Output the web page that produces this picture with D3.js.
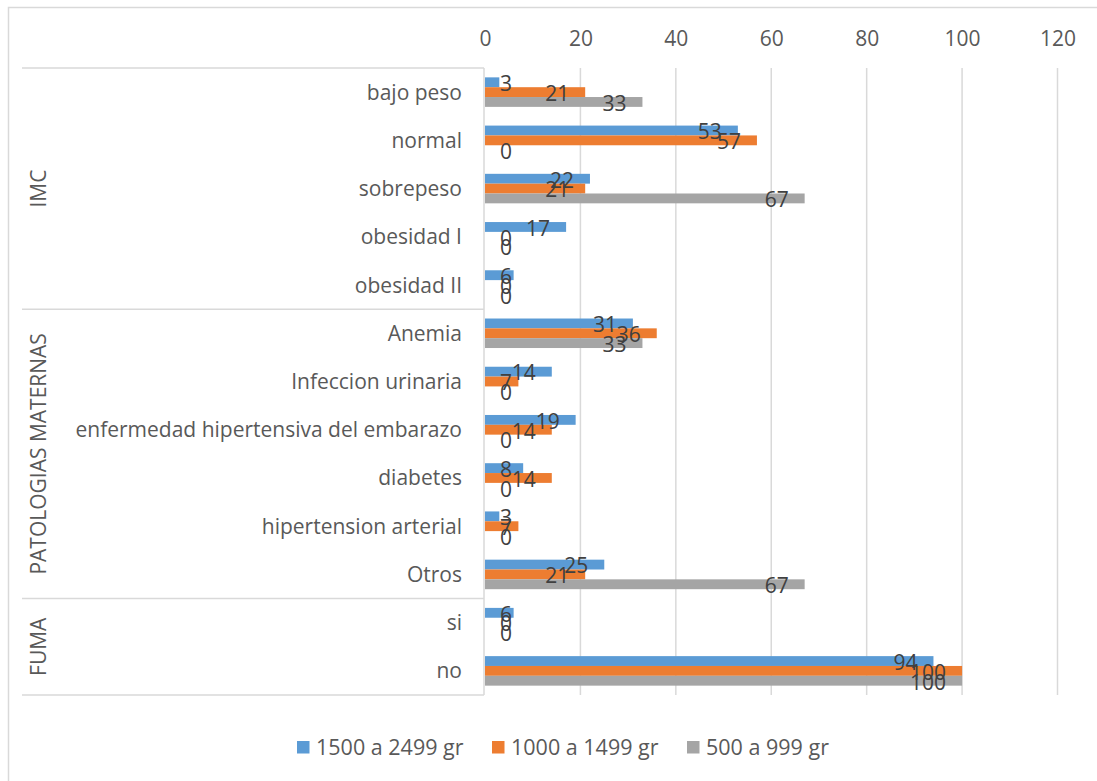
<!DOCTYPE html>
<html>
<head>
<meta charset="utf-8">
<script src="https://cdn.jsdelivr.net/npm/d3@7"></script>
<style>
  html, body { margin: 0; padding: 0; background: #fff; }
  svg { display: block; font-family: "Open Sans", sans-serif; }
</style>
</head>
<body>
<svg id="chart" width="1097" height="781"></svg>
<script>
// Categories, grouped by the factor they belong to
const groups = ["IMC", "PATOLOGIAS MATERNAS", "FUMA"];
const groupCategories = [
  ["bajo peso", "normal", "sobrepeso", "obesidad I", "obesidad II"],
  ["Anemia", "Infeccion urinaria", "enfermedad hipertensiva del embarazo", "diabetes", "hipertension arterial", "Otros"],
  ["si", "no"]
];
const categories = groupCategories.flat();

// Series (birth weight ranges) and their percentage values per category
const seriesNames = ["1500 a 2499 gr", "1000 a 1499 gr", "500 a 999 gr"];
const seriesColors = ["#5B9BD5", "#ED7D31", "#A5A5A5"];
const values1500 = [3, 53, 22, 17, 6, 31, 14, 19, 8, 3, 25, 6, 94];
const values1000 = [21, 57, 21, 0, 0, 36, 7, 14, 14, 7, 21, 0, 100];
const values500  = [33, 0, 67, 0, 0, 33, 0, 0, 0, 0, 67, 0, 100];
const seriesValues = [values1500, values1000, values500];

const xTicks = [0, 20, 40, 60, 80, 100, 120];

const svg = d3.select("#chart");
const W = 1097, H = 781;
const plot = { left: 485, right: 1057.5, top: 68, bottom: 695 };
const lineColor = "#d9d9d9";
const textColor = "#595959";
const labelColor = "#404040";
const fontSize = 21;

// Outer chart frame
svg.append("rect")
  .attr("x", 8.5).attr("y", 7.5)
  .attr("width", W + 10).attr("height", H + 10)
  .attr("fill", "#fff").attr("stroke", lineColor).attr("stroke-width", 1.5);

const x = d3.scaleLinear().domain([0, 120]).range([plot.left, plot.right]);
const y = d3.scaleBand().domain(categories).range([plot.top, plot.bottom])
  .paddingInner(0.388).paddingOuter(0.194);
const ySeries = d3.scaleBand().domain(d3.range(seriesNames.length)).range([0, y.bandwidth()]);

// Vertical gridlines and top value axis
const xAxis = d3.axisTop(x).tickValues(xTicks).tickSize(0).tickPadding(0);
const gx = svg.append("g").attr("transform", "translate(0,46)").call(xAxis);
gx.select(".domain").remove();
gx.selectAll("text").attr("font-size", fontSize).attr("fill", textColor)
  .attr("font-family", "Open Sans, sans-serif").attr("dy", 0);

svg.append("g").selectAll("line").data(xTicks.filter(d => d > 0)).join("line")
  .attr("x1", d => x(d)).attr("x2", d => x(d))
  .attr("y1", plot.top).attr("y2", plot.bottom)
  .attr("stroke", lineColor).attr("stroke-width", 1.5);

// Category axis line and group separators
const step = y.step();
const boundaries = [0];
groupCategories.forEach(g => boundaries.push(boundaries[boundaries.length - 1] + g.length));
const yBoundary = i => plot.top + i * step;

svg.append("line")
  .attr("x1", 484).attr("x2", 484).attr("y1", plot.top).attr("y2", plot.bottom)
  .attr("stroke", lineColor).attr("stroke-width", 1.5);

svg.append("g").selectAll("line").data(boundaries).join("line")
  .attr("x1", 22).attr("x2", 484)
  .attr("y1", d => yBoundary(d)).attr("y2", d => yBoundary(d))
  .attr("stroke", lineColor).attr("stroke-width", 1.5);

// Category labels
svg.append("g").selectAll("text").data(categories).join("text")
  .attr("x", 462)
  .attr("y", d => y(d) + y.bandwidth() / 2 + 7.5)
  .attr("text-anchor", "end")
  .attr("font-size", fontSize).attr("fill", textColor)
  .text(d => d);

// Rotated group labels
svg.append("g").selectAll("text").data(groups).join("text")
  .attr("transform", (d, i) => {
    const cy = (yBoundary(boundaries[i]) + yBoundary(boundaries[i + 1])) / 2;
    return `translate(45.5,${cy}) rotate(-90)`;
  })
  .attr("text-anchor", "middle")
  .attr("font-size", fontSize).attr("fill", textColor)
  .text(d => d);

// Bars
const barData = [];
seriesValues.forEach((vals, s) => {
  vals.forEach((v, i) => barData.push({ s, cat: categories[i], v }));
});

svg.append("g").selectAll("rect").data(barData).join("rect")
  .attr("x", x(0))
  .attr("y", d => y(d.cat) + ySeries(d.s))
  .attr("width", d => x(d.v) - x(0))
  .attr("height", ySeries.bandwidth())
  .attr("fill", d => seriesColors[d.s]);

// Value labels, inside the bar end, kept clear of the axis for short bars
const labels = svg.append("g").selectAll("text").data(barData).join("text")
  .attr("y", d => y(d.cat) + ySeries(d.s) + ySeries.bandwidth() / 2 + 8.8)
  .attr("font-size", fontSize).attr("fill", labelColor)
  .text(d => d.v);

labels.each(function (d) {
  const w = this.getComputedTextLength();
  const left = Math.max(x(d.v) - 16 - w, x(0) + 15);
  d3.select(this).attr("x", left);
});

// Legend
const legendX = [297, 492, 687];
const legend = svg.append("g").selectAll("g").data(seriesNames).join("g")
  .attr("transform", (d, i) => `translate(${legendX[i]},741)`);
legend.append("rect").attr("width", 12.5).attr("height", 12.5)
  .attr("fill", (d, i) => seriesColors[i]);
legend.append("text").attr("x", 19).attr("y", 14)
  .attr("font-size", 21.5).attr("fill", textColor)
  .text(d => d);
</script>
</body>
</html>
